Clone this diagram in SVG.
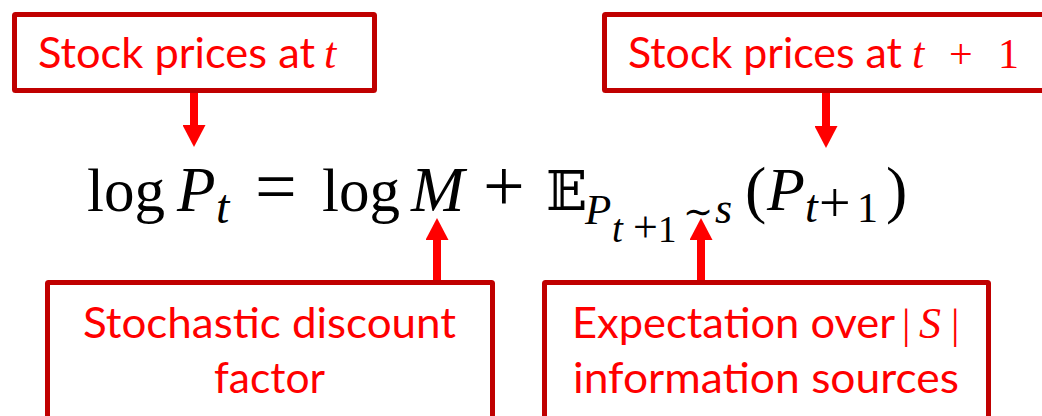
<svg xmlns="http://www.w3.org/2000/svg" width="1042" height="416" viewBox="0 0 1042 416">
<style>
.box{fill:#FFFFFF;stroke:#C00000;stroke-width:5;stroke-linejoin:round}
.lbl{font-family:Lato,"Open Sans","Liberation Sans",sans-serif;font-size:42px;fill:#FF0000}
.lm{font-family:"Liberation Serif","DejaVu Serif",serif;font-style:italic;font-size:44px;fill:#FF0000}
.lr{font-family:"Liberation Serif","DejaVu Serif",serif;font-size:42px;fill:#FF0000}
.eq{font-family:"Liberation Serif","DejaVu Serif",serif;fill:#000000}
.it{font-style:italic}
.conn{stroke:#FF0000;stroke-width:8;fill:none}
</style>
<defs>
<marker id="ah" markerUnits="userSpaceOnUse" markerWidth="23" markerHeight="23" refX="0" refY="11.5" orient="auto" viewBox="0 0 22 23">
<path d="M0,0 L22,11.5 L0,23 z" fill="#FF0000"/>
</marker>
</defs>
<rect width="1042" height="416" fill="#FFFFFF"/>

<g id="connectors">
<line class="conn" x1="194" y1="93" x2="194" y2="125" marker-end="url(#ah)"/>
<line class="conn" x1="826" y1="93" x2="826" y2="126" marker-end="url(#ah)"/>
<line class="conn" x1="437" y1="281" x2="437" y2="240" marker-end="url(#ah)"/>
<line class="conn" x1="701" y1="281" x2="701" y2="240" marker-end="url(#ah)"/>
</g>

<g id="node-stock-t">
<rect class="box" x="14.5" y="14.5" width="360" height="76" rx="1"/>
<text class="lbl" x="38" y="68" textLength="277" lengthAdjust="spacingAndGlyphs">Stock prices at</text>
<text class="lm" x="324" y="68">t</text>
</g>

<g id="node-stock-t1">
<rect class="box" x="604.5" y="14.5" width="450" height="76" rx="1"/>
<text class="lbl" x="628" y="68" textLength="274" lengthAdjust="spacingAndGlyphs">Stock prices at</text>
<text class="lm" x="912" y="68">t</text>
<text class="lr" x="949" y="68" font-size="48">+</text>
<text class="lr" x="998" y="68">1</text>
</g>

<g id="equation">
<text class="eq" x="87" y="211" font-size="62" textLength="78" lengthAdjust="spacingAndGlyphs">log</text>
<text class="eq it" x="177" y="211" font-size="63">P</text>
<text class="eq it" x="216" y="223" font-size="48">t</text>
<text class="eq" x="255" y="211" font-size="74">=</text>
<text class="eq" x="322" y="211" font-size="62" textLength="78" lengthAdjust="spacingAndGlyphs">log</text>
<text class="eq it" x="411" y="211" font-size="64">M</text>
<text class="eq" x="483" y="211" font-size="74">+</text>
<text x="546" y="210" font-family="'DejaVu Serif','DejaVu Sans',serif" font-size="54" fill="#000000">𝔼</text>
<text class="eq it" x="585" y="224" font-size="43">P</text>
<text class="eq it" x="612" y="242" font-size="39">t</text>
<text class="eq" x="633" y="242" font-size="44">+</text>
<text class="eq" x="658" y="242" font-size="37">1</text>
<text x="683" y="224" font-family="'DejaVu Serif',serif" font-size="36" fill="#000000">∼</text>
<text class="eq it" x="715" y="223" font-size="44">s</text>
<text class="eq" x="745" y="211" font-size="64">(</text>
<text class="eq it" x="767" y="210" font-size="62">P</text>
<text class="eq it" x="805" y="222" font-size="46">t</text>
<text class="eq" x="819" y="222" font-size="56">+</text>
<text class="eq" x="857" y="222" font-size="42">1</text>
<text class="eq" x="886" y="211" font-size="64">)</text>
</g>

<g id="node-sdf">
<rect class="box" x="47.5" y="282.5" width="445" height="150" rx="1"/>
<text class="lbl" x="83" y="338" textLength="373" lengthAdjust="spacingAndGlyphs">Stochastic discount</text>
<text class="lbl" x="214" y="393" textLength="111" lengthAdjust="spacingAndGlyphs">factor</text>
</g>

<g id="node-expectation">
<rect class="box" x="544.5" y="282.5" width="444" height="150" rx="1"/>
<text class="lbl" x="572" y="338" textLength="323" lengthAdjust="spacingAndGlyphs">Expectation over</text>
<text class="lr" x="902" y="338">|</text>
<text class="lm" x="919" y="338">S</text>
<text class="lr" x="951" y="338">|</text>
<text class="lbl" x="573" y="393" textLength="386" lengthAdjust="spacingAndGlyphs">information sources</text>
</g>
</svg>
